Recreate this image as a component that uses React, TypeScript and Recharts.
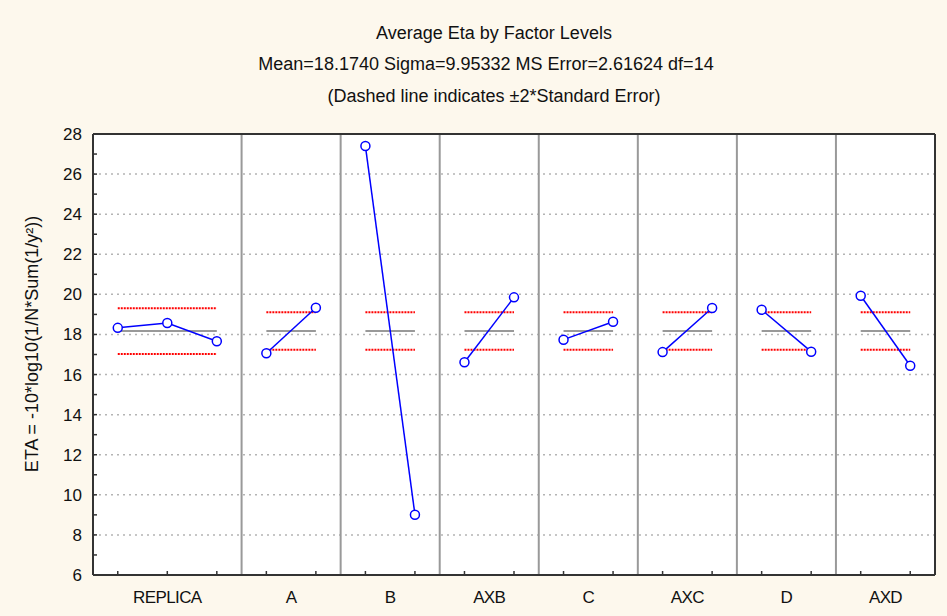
import { ComposedChart, Line, XAxis, YAxis, CartesianGrid, ReferenceLine } from 'recharts';

const FONT = 'Liberation Sans, Arial, sans-serif';

// factor names and the mean ETA at each of their levels
const factors = ['REPLICA', 'A', 'B', 'AXB', 'C', 'AXC', 'D', 'AXD'];
const levelMeans = [
  [18.33, 18.57, 17.66],
  [17.06, 19.33],
  [27.4, 9.01],
  [16.61, 19.85],
  [17.74, 18.63],
  [17.12, 19.32],
  [19.23, 17.14],
  [19.93, 16.44],
];
const grandMean = 18.174;
// ±2*standard error band for each factor
const bandUpper = [19.31, 19.11, 19.11, 19.11, 19.11, 19.11, 19.11, 19.11];
const bandLower = [17.03, 17.24, 17.24, 17.24, 17.24, 17.24, 17.24, 17.24];

const yTicks = [6, 7, 8, 9, 10, 11, 12, 13, 14, 15, 16, 17, 18, 19, 20, 21, 22, 23, 24, 25, 26, 27, 28];
const gridValues = [8, 10, 12, 14, 16, 18, 20, 22, 24, 26];

// each level gets one slot on the x scale, points sit mid-slot
const starts: number[] = [];
let acc = 0;
levelMeans.forEach((lv) => {
  starts.push(acc);
  acc += lv.length;
});
const totalSlots = acc;
const panels = factors.map((name, i) => {
  const pts = levelMeans[i].map((v, j) => ({ x: starts[i] + j + 0.5, y: v }));
  return {
    name,
    pts,
    x0: pts[0].x,
    x1: pts[pts.length - 1].x,
    center: starts[i] + levelMeans[i].length / 2,
    upper: bandUpper[i],
    lower: bandLower[i],
  };
});
const pointXs = panels.flatMap((p) => p.pts.map((d) => d.x));
const separators = starts.slice(1);
const centers = panels.map((p) => p.center);
const bottomTicks = Array.from(new Set([...pointXs, ...centers])).sort((a, b) => a - b);

const FRAME = '#333';

const BottomTick = (props: any) => {
  const { x, y, payload } = props;
  const v = payload.value;
  const idx = centers.indexOf(v);
  return (
    <g>
      {pointXs.includes(v) && <line x1={x} x2={x} y1={y} y2={y - 4} stroke={FRAME} strokeWidth={1.5} />}
      {idx >= 0 && (
        <text x={x} y={y + 28} textAnchor="middle" fontSize={17} fontFamily={FONT} fill="#111" letterSpacing={-0.6}>
          {factors[idx]}
        </text>
      )}
    </g>
  );
};

const TopTick = (props: any) => {
  const { x, y } = props;
  return <line x1={x} x2={x} y1={y} y2={y + 4} stroke={FRAME} strokeWidth={1.5} />;
};

const LeftTick = (props: any) => {
  const { x, y, payload } = props;
  const v = payload.value;
  return (
    <g>
      <line x1={x} x2={x + 4} y1={y} y2={y} stroke={FRAME} strokeWidth={1.5} />
      {v % 2 === 0 && (
        <text x={x - 11} y={y + 6} textAnchor="end" fontSize={17} fontFamily={FONT} fill="#111">
          {v}
        </text>
      )}
    </g>
  );
};

const RightTick = (props: any) => {
  const { x, y } = props;
  return <line x1={x} x2={x - 4} y1={y} y2={y} stroke={FRAME} strokeWidth={1.5} />;
};

export default function App() {
  return (
    <div style={{ position: 'absolute', left: 0, top: 0, width: 947, height: 616, background: '#fdf8ed' }}>
      <ComposedChart width={947} height={616} margin={{ top: 133, right: 0, bottom: 0, left: 0 }}>
        <CartesianGrid fill="#fff" horizontal={false} vertical={false} />
        <XAxis
          xAxisId="bottom"
          type="number"
          dataKey="x"
          domain={[0, totalSlots]}
          ticks={bottomTicks}
          interval={0}
          height={41}
          tickSize={0}
          tickMargin={0}
          tickLine={false}
          axisLine={{ stroke: FRAME, strokeWidth: 2 }}
          tick={<BottomTick />}
        />
        <XAxis
          xAxisId="top"
          orientation="top"
          type="number"
          domain={[0, totalSlots]}
          ticks={pointXs}
          interval={0}
          height={1}
          tickSize={0}
          tickMargin={0}
          tickLine={false}
          axisLine={{ stroke: FRAME, strokeWidth: 2 }}
          tick={<TopTick />}
        />
        <YAxis
          yAxisId="left"
          type="number"
          domain={[6, 28]}
          ticks={yTicks}
          interval={0}
          width={93}
          tickSize={0}
          tickMargin={0}
          tickLine={false}
          axisLine={{ stroke: FRAME, strokeWidth: 2 }}
          tick={<LeftTick />}
        />
        <YAxis
          yAxisId="right"
          orientation="right"
          type="number"
          domain={[6, 28]}
          ticks={yTicks}
          interval={0}
          width={12}
          tickSize={0}
          tickMargin={0}
          tickLine={false}
          axisLine={{ stroke: FRAME, strokeWidth: 2 }}
          tick={<RightTick />}
        />

        {gridValues.map((v) => (
          <ReferenceLine key={'g' + v} xAxisId="bottom" yAxisId="left" y={v} stroke="#b4b4b4" strokeWidth={1.5} strokeDasharray="2 4" />
        ))}
        {separators.map((s) => (
          <ReferenceLine key={'s' + s} xAxisId="bottom" yAxisId="left" x={s} stroke="#999" strokeWidth={2} />
        ))}
        {panels.map((p) => (
          <ReferenceLine
            key={'m' + p.name}
            xAxisId="bottom"
            yAxisId="left"
            segment={[{ x: p.x0, y: grandMean }, { x: p.x1, y: grandMean }]}
            stroke="#999"
            strokeWidth={2}
          />
        ))}
        {panels.map((p) => (
          <ReferenceLine
            key={'u' + p.name}
            xAxisId="bottom"
            yAxisId="left"
            segment={[{ x: p.x0, y: p.upper }, { x: p.x1, y: p.upper }]}
            stroke="#ff0000"
            strokeWidth={2}
            strokeDasharray="2 1"
          />
        ))}
        {panels.map((p) => (
          <ReferenceLine
            key={'l' + p.name}
            xAxisId="bottom"
            yAxisId="left"
            segment={[{ x: p.x0, y: p.lower }, { x: p.x1, y: p.lower }]}
            stroke="#ff0000"
            strokeWidth={2}
            strokeDasharray="2 1"
          />
        ))}

        {panels.map((p) => (
          <Line
            key={p.name}
            xAxisId="bottom"
            yAxisId="left"
            data={p.pts}
            dataKey="y"
            stroke="#0000ff"
            strokeWidth={1.5}
            dot={{ r: 4.5, stroke: '#0000ff', strokeWidth: 1.5, fill: '#fff' }}
            isAnimationActive={false}
          />
        ))}

        <text x={494} y={39} textAnchor="middle" fontSize={18} fontFamily={FONT} fill="#111">
          Average Eta by Factor Levels
        </text>
        <text x={486} y={70} textAnchor="middle" fontSize={18} fontFamily={FONT} fill="#111">
          Mean=18.1740 Sigma=9.95332 MS Error=2.61624 df=14
        </text>
        <text x={494} y={102} textAnchor="middle" fontSize={18} fontFamily={FONT} fill="#111">
          (Dashed line indicates ±2*Standard Error)
        </text>
        <text
          x={38}
          y={344}
          transform="rotate(-90 38 344)"
          textAnchor="middle"
          fontSize={18}
          fontFamily={FONT}
          fill="#111"
        >
          ETA = -10*log10(1/N*Sum(1/y²))
        </text>
      </ComposedChart>
    </div>
  );
}
